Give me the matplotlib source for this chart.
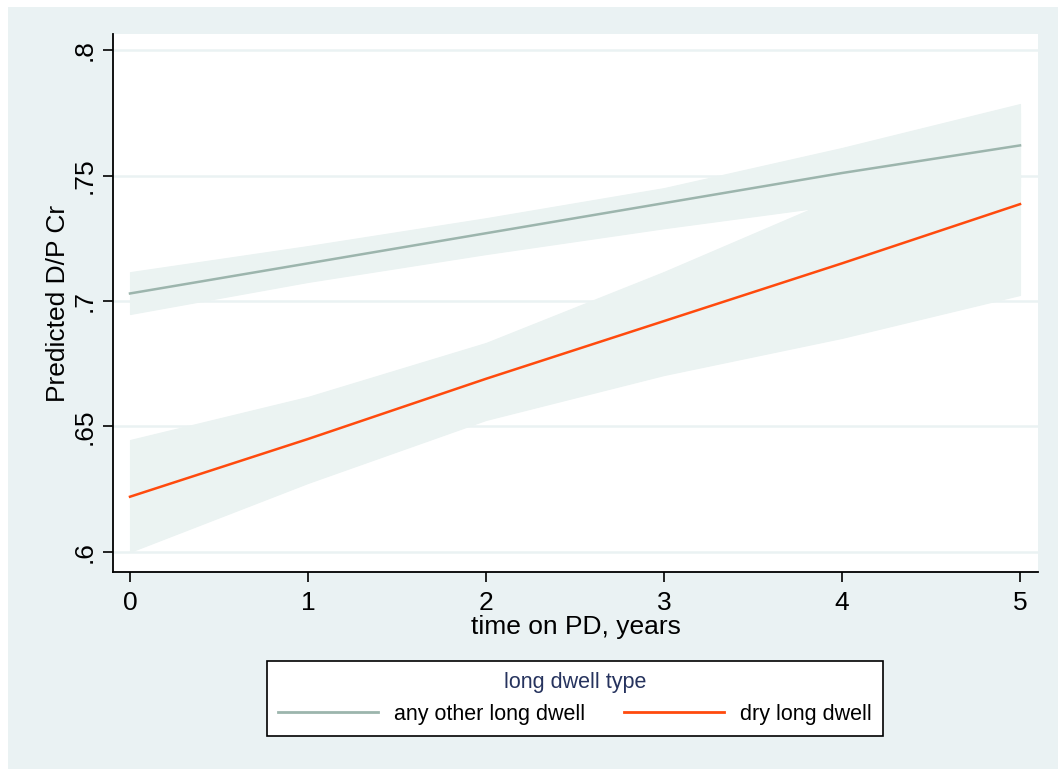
import matplotlib.pyplot as plt
from matplotlib.patches import Rectangle
from matplotlib.lines import Line2D

plt.rcParams['font.family'] = ['Liberation Sans', 'DejaVu Sans']

# predicted margins
years = [0, 1, 2, 3, 4, 5]
other_fit = [0.703, 0.715, 0.727, 0.739, 0.751, 0.762]
other_lo = [0.6948, 0.7076, 0.7187, 0.729, 0.7385, 0.746]
other_hi = [0.7115, 0.7219, 0.733, 0.745, 0.761, 0.7785]
dry_fit = [0.622, 0.645, 0.669, 0.692, 0.715, 0.7386]
dry_lo = [0.600, 0.6275, 0.6526, 0.6705, 0.6853, 0.7024]
dry_hi = [0.6446, 0.6618, 0.6833, 0.7116, 0.742, 0.775]

yticks = [0.6, 0.65, 0.7, 0.75, 0.8]
ytick_labels = ['.6', '.65', '.7', '.75', '.8']

bg = '#eaf2f3'
band = '#ebf3f2'
gray_line = '#9cb5ad'
orange_line = '#ff4a0d'

fig = plt.figure(figsize=(10.58, 7.69), dpi=100)
fig.patches.append(Rectangle((8 / 1058, 0), 1 - 8 / 1058, 1 - 7 / 769,
                             transform=fig.transFigure, facecolor=bg,
                             edgecolor='none', zorder=-10))

ax = fig.add_axes([113 / 1058, 1 - 572 / 769, (1038 - 113) / 1058, (572 - 34) / 769])
ax.set_facecolor('white')

for y in yticks:
    ax.axhline(y, color=bg, lw=1.8, zorder=1)

ax.fill_between(years, dry_lo, dry_hi, color=band, lw=0.8, edgecolor=band, zorder=2)
ax.fill_between(years, other_lo, other_hi, color=band, lw=0.8, edgecolor=band, zorder=2)
ax.plot(years, other_fit, color=gray_line, lw=1.8, zorder=3)
ax.plot(years, dry_fit, color=orange_line, lw=1.8, zorder=3)

ax.set_xlim(-0.0955, 5.101)
ax.set_ylim(0.592, 0.8064)
ax.set_xticks(years)
ax.set_yticks(yticks)
ax.set_yticklabels(ytick_labels, rotation=90, va='center')
ax.tick_params(labelsize=19, length=7, width=1.2, color='black')
ax.tick_params(axis='x', pad=7)
ax.tick_params(axis='y', pad=5)
for side in ['top', 'right']:
    ax.spines[side].set_visible(False)
for side in ['left', 'bottom']:
    ax.spines[side].set_linewidth(1.3)

ax.set_xlabel('time on PD, years', fontsize=19, labelpad=0)
ax.set_ylabel('Predicted D/P Cr', fontsize=19, labelpad=2)

handles = [Line2D([], [], color=gray_line, lw=2),
           Line2D([], [], color=orange_line, lw=2)]
leg = fig.legend(handles, ['any other long dwell', 'dry long dwell'],
                 title='long dwell type', ncol=2, loc='center',
                 bbox_to_anchor=(575 / 1058, 1 - 698.5 / 769),
                 fontsize=15.5, title_fontsize=15.5, frameon=True, fancybox=False,
                 edgecolor='black', facecolor='white', framealpha=1,
                 handlelength=4.65, handletextpad=0.75, columnspacing=1.8,
                 borderpad=0.5, borderaxespad=0, labelspacing=0.5)
leg.get_frame().set_linewidth(1.2)
leg.get_title().set_color('#26335e')

fig.savefig('out.png', dpi=100)
